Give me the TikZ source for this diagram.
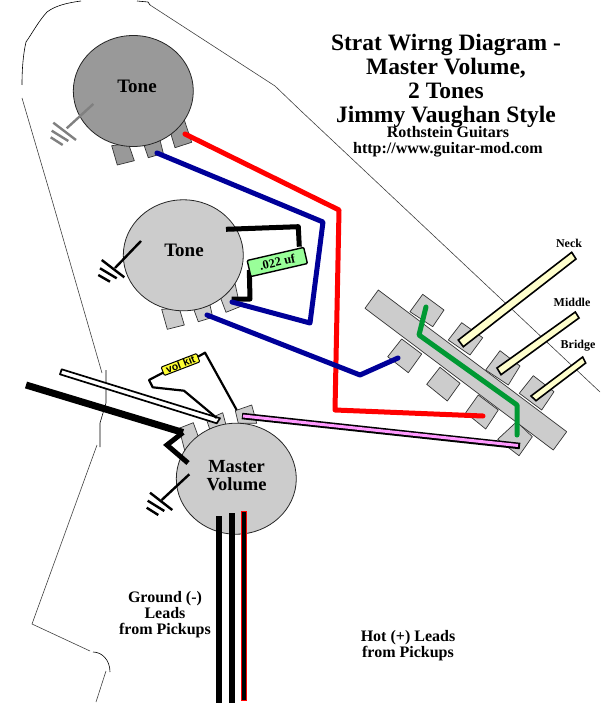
\documentclass[tikz,border=0pt]{standalone}
\usepackage{fontspec}
\setmainfont{Liberation Serif}
\setsansfont{Liberation Sans}
\tikzset{
  outline/.style={draw=black!75,line width=0.6pt},
  lug/.style={draw=black!80,fill=black!20,line width=0.7pt,line join=round},
  potbody/.style={draw=black!85,line width=0.8pt},
  wire/.style={line width=5pt,line join=round,line cap=round},
  gnd/.style={line width=2.4pt},
  lab/.style={font=\bfseries,align=center,inner sep=0pt},
}
\definecolor{darkblue}{HTML}{000099}
\definecolor{wiregreen}{HTML}{009933}
\definecolor{pinkw}{HTML}{FF99FF}
\definecolor{cream}{HTML}{FFFFCC}
\definecolor{capgreen}{HTML}{99FF99}
\definecolor{volyel}{HTML}{FFFF33}
\begin{document}
\begin{tikzpicture}[x=1pt,y=-1pt]
\useasboundingbox (0,0) rectangle (600,703);
% body outline
\draw[outline,black] (81,1) .. controls (66,3) and (55,6) .. (47,12) .. controls (38,22) and (33,32) .. (26,42) .. controls (23,55) and (22,70) .. (22,85);
\draw[outline] (22,98) -- (52,200) -- (102,373);
\draw[outline,black] (106,370) -- (106,403) -- (100,423) -- (100,447);
\draw[outline] (97,445) -- (32,624) -- (90,651);
\draw[outline,black] (93,652) .. controls (102,652) and (110,660) .. (110,672);
\draw[outline] (106,671) -- (96,702);
\draw[outline,black] (137,1) -- (148,2) -- (150,5);
\draw[outline] (150,5) -- (275,86) -- (300,110) -- (600,392);
% switch tabs
\foreach \p in {
 {(422.7,294.3)--(444,310)--(432.7,326.7)--(410,311.7)},
 {(461.7,322.7)--(482.7,337.7)--(470,355)--(448.3,340)},
 {(500,350.7)--(520,366)--(508.3,385)--(485.7,370)},
 {(533.3,375.7)--(554,391.7)--(541.7,410)--(519.3,393.3)},
 {(401.7,339)--(421.7,354)--(408.3,372.7)--(387.7,356.7)},
 {(440,367.3)--(460,383.3)--(447.3,401)--(426.7,384.3)},
 {(478.3,395)--(498.3,410)--(485.7,429)--(465.7,412.7)},
 {(516.7,421.7)--(532.3,436.7)--(519,455.7)--(497.7,439.3)}}
  {\draw[lug] \p -- cycle;}
% switch bar
\draw[lug] (378.3,290) -- (566.7,431.7) -- (553.3,450) -- (365,308.3) -- cycle;
% levers
\draw[draw=black,fill=cream,line width=1.6pt] (458.3,340) -- (571.7,252.3) -- (576,259) -- (463.3,346.7) -- cycle;
\draw[draw=black,fill=cream,line width=1.6pt] (497,368) -- (575.3,312) -- (579,318) -- (501,374.7) -- cycle;
\draw[draw=black,fill=cream,line width=1.6pt] (531,396) -- (582.7,357) -- (585.7,363) -- (536,400.7) -- cycle;
\node[lab,font=\bfseries\fontsize{12}{14}\selectfont] (neck) at (569,243) {Neck};
\node[lab,font=\bfseries\fontsize{12}{14}\selectfont] (middle) at (572,302) {Middle};
\node[lab,font=\bfseries\fontsize{12}{14}\selectfont] (bridge) at (578,346) {Bridge};
% tone 1
\draw[lug,fill=black!40] (111.7,145.7) -- (117.3,165) -- (134.3,160.7) -- (128.3,143.3) -- cycle;
\draw[lug,fill=black!40] (144,145) -- (148.3,157.7) -- (163.3,153.3) -- (160,140) -- cycle;
\draw[lug,fill=black!40] (184.3,120) -- (191.7,142.3) -- (175,147.7) -- (170.7,133.3) -- cycle;
\draw[potbody,fill=black!40] (133.3,91) ellipse [x radius=60,y radius=55.5];
\node[lab,font=\bfseries\fontsize{19}{22}\selectfont] (tone1) at (137,86.5) {Tone};
\draw[gnd,black!50] (93.3,104) -- (66.7,128.3);
\draw[gnd,black!50] (53.3,122.7) -- (76,140);
\draw[gnd,black!50] (51.7,130.7) -- (68.3,141);
\draw[gnd,black!50] (50.7,137.3) -- (62.7,145);
% tone 2
\draw[lug] (161.7,309.3) -- (167.3,329.3) -- (184.3,325) -- (179.3,308.3) -- cycle;
\draw[lug] (194,310) -- (198.3,321.7) -- (212.7,317.3) -- (210,305) -- cycle;
\draw[lug] (220.7,298.3) -- (226,312.3) -- (240,306.7) -- (235,283.3) -- cycle;
\draw[potbody,fill=black!20] (183.3,255.3) ellipse [x radius=60,y radius=55.5];
\node[lab,font=\bfseries\fontsize{19}{22}\selectfont] (tone2) at (184,250) {Tone};
\draw[gnd,black] (141,241) -- (115,268);
\draw[gnd,black] (101.7,260) -- (124.3,277.3);
\draw[gnd,black] (100,268.3) -- (116.7,278.3);
\draw[gnd,black] (98.3,275) -- (110,281.7);
% capacitor and black wires
\draw[wire,line cap=butt,black] (226,229.3) -- (298.3,226.7) -- (299.3,246.7);
\draw[wire,line cap=butt,black] (231.7,299) -- (250,299) -- (249.3,270);
\node[draw=black,fill=capgreen,line width=1.4pt,rounded corners=1pt,minimum width=58pt,minimum height=16.5pt,inner sep=0pt,rotate=13,font=\bfseries\fontsize{12.5}{14}\selectfont] (cap) at (277.3,262) {.022 uf};
% red and blue wires
\draw[wire,red] (185,134) -- (339,210) -- (335,410) -- (483,416);
\draw[wire,darkblue] (157,153) -- (323,222) -- (310,323) -- (232,302);
\draw[wire,darkblue] (207,315) -- (360,375) -- (398,358);
\draw[wire,wiregreen] (426,307) -- (419,335) -- (517,405) -- (517,435);
% volume lugs
\draw[lug] (179,428.3) -- (193.3,422.7) -- (198.3,436.7) -- (185,451.7) -- cycle;
\draw[lug] (206.7,420) -- (222.7,412.7) -- (226,425) -- (210,430) -- cycle;
\draw[lug] (235.3,410.7) -- (251.7,405) -- (256.7,423.3) -- (238.3,423.3) -- cycle;
\draw[potbody,fill=black!20] (236.3,478.7) ellipse [x radius=60,y radius=55.5];
\node[lab,font=\bfseries\fontsize{18.5}{18}\selectfont] (vol) at (236.5,476) {Master\\Volume};
% pickup leads in the volume
\draw[line width=6pt,black] (219,516) -- (219,703);
\draw[line width=6pt,black] (232,513) -- (232,703);
\draw[draw=red,fill=black,line width=1pt] (241.5,511.5) rectangle (246.5,700);
% white lead
\draw[draw=black,fill=white,line width=1.7pt,line join=round] (61.7,369.3) -- (60,374.3) -- (216.7,423.3) -- (220,418.3) -- cycle;
% black lead
\draw[line width=7pt,black] (26,385) -- (183,432.5);
\draw[line width=5pt,black,line join=miter] (183,432.5) -- (167,445) -- (188,463);
% pink lead
\draw[line width=6.5pt,black] (242,416) -- (520,446);
\draw[line width=3pt,pinkw] (243,416) -- (518,445.5);
% vol kit
\draw[line width=2.2pt,black,line join=round] (163,372.7) -- (149,380) -- (152.7,387.3) -- (184,390.7) -- (216.7,418);
\draw[line width=2.2pt,black,line join=round] (198,356.7) -- (205,352.7) -- (236.7,410);
\node[draw=black,fill=volyel,line width=1pt,rounded corners=1pt,minimum width=38pt,minimum height=9pt,inner sep=0pt,rotate=21,font=\sffamily\bfseries\fontsize{10.5}{10}\selectfont] (kit) at (180.5,364.5) {vol kit};
% volume ground
\draw[gnd,black] (189.3,474.3) -- (161.7,500);
\draw[gnd,black] (150,492.7) -- (172.3,510);
\draw[gnd,black] (147.7,500.7) -- (164.3,511);
\draw[gnd,black] (146.7,507.7) -- (158.3,515);
% labels
\node[lab,font=\bfseries\fontsize{16}{16}\selectfont] (ground) at (165,615) {Ground (-)\\Leads\\from Pickups};
\node[lab,font=\bfseries\fontsize{16}{16}\selectfont] (hot) at (408,646) {Hot (+) Leads\\from Pickups};
\node[lab,font=\bfseries\fontsize{23.5}{24}\selectfont] (title) at (446,80.5) {Strat Wirng Diagram -\\Master Volume,\\2 Tones\\Jimmy Vaughan Style};
\node[lab,font=\bfseries\fontsize{16}{16}\selectfont] (sub) at (448,141.5) {Rothstein Guitars\\http://www.guitar-mod.com};
\end{tikzpicture}
\end{document}
